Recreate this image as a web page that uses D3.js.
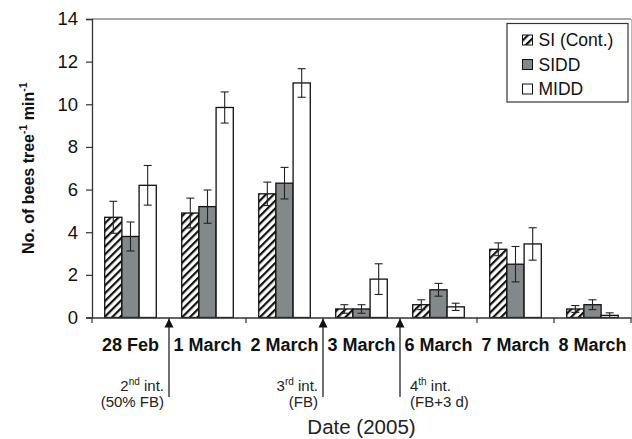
<!doctype html>
<html lang="en">
<head>
  <meta charset="utf-8">
  <title>Bee visits per tree</title>
  <style>
    body { margin: 0; background: #fff; }
    svg, svg text { font-family: "Liberation Sans", Arial, sans-serif; }
  </style>
</head>
<body>
  <div id="chart"></div>
  <script src="https://d3js.org/d3.v7.min.js"></script>
  <script>
    // Data ----------------------------------------------------------------
    const categories = ["28 Feb", "1 March", "2 March", "3 March", "6 March", "7 March", "8 March"];
    const seriesNames = ["SI (Cont.)", "SIDD", "MIDD"];
    const siMean = [4.7, 4.9, 5.8, 0.4, 0.6, 3.2, 0.4];
    const siErr = [0.75, 0.7, 0.55, 0.2, 0.23, 0.3, 0.16];
    const siddMean = [3.8, 5.2, 6.3, 0.4, 1.3, 2.5, 0.6];
    const siddErr = [0.68, 0.78, 0.74, 0.2, 0.3, 0.83, 0.23];
    const middMean = [6.2, 9.85, 11.0, 1.8, 0.5, 3.45, 0.1];
    const middErr = [0.93, 0.73, 0.67, 0.72, 0.17, 0.76, 0.12];
    const yTicks = [0, 2, 4, 6, 8, 10, 12, 14];

    // interventions sit on the boundary before these categories
    const interventionBefore = ["1 March", "3 March", "6 March"];
    const interventionNum = ["2", "3", "4"];
    const interventionSup = ["nd", "rd", "th"];
    const interventionNote = ["(50% FB)", "(FB)", "(FB+3 d)"];
    const interventionSide = ["left", "left", "right"];

    // Layout --------------------------------------------------------------
    const width = 632;
    const height = 439;
    const margin = { top: 19, right: 1, bottom: 121.5, left: 92 };

    const svg = d3.select("#chart")
      .append("svg")
      .attr("width", width)
      .attr("height", height);

    const x = d3.scaleBand()
      .domain(categories)
      .range([margin.left, width - margin.right])
      .padding(0);

    const xs = d3.scaleBand()
      .domain(seriesNames)
      .range([0, x.bandwidth()])
      .paddingInner(0)
      .paddingOuter(0.74);

    const y = d3.scaleLinear()
      .domain([0, 14])
      .range([height - margin.bottom, margin.top]);

    // hatch pattern
    const defs = svg.append("defs");
    const pat = defs.append("pattern")
      .attr("id", "hatch")
      .attr("patternUnits", "userSpaceOnUse")
      .attr("width", 5.5)
      .attr("height", 5.5)
      .attr("patternTransform", "rotate(45)");
    pat.append("rect").attr("width", 5.5).attr("height", 5.5).attr("fill", "#fff");
    pat.append("rect").attr("x", 0).attr("width", 2.2).attr("height", 5.5).attr("fill", "#111");

    const fills = ["url(#hatch)", "#83888a", "#fff"];
    const means = [siMean, siddMean, middMean];
    const errs = [siErr, siddErr, middErr];

    const rows = [];
    seriesNames.forEach((s, si) => {
      categories.forEach((c, ci) => {
        rows.push({ series: s, si: si, cat: c, v: means[si][ci], e: errs[si][ci] });
      });
    });

    // Frame ---------------------------------------------------------------
    svg.append("line")
      .attr("x1", margin.left).attr("x2", width - margin.right)
      .attr("y1", margin.top).attr("y2", margin.top)
      .attr("stroke", "#555").attr("stroke-width", 1.2);
    svg.append("line")
      .attr("x1", width - margin.right + 0.5).attr("x2", width - margin.right + 0.5)
      .attr("y1", margin.top).attr("y2", y(0))
      .attr("stroke", "#bbb").attr("stroke-width", 1);

    // Bars ----------------------------------------------------------------
    const bars = svg.append("g");
    bars.selectAll("rect")
      .data(rows)
      .join("rect")
      .attr("x", d => x(d.cat) + xs(d.series))
      .attr("y", d => y(d.v))
      .attr("width", xs.bandwidth())
      .attr("height", d => y(0) - y(d.v))
      .attr("fill", d => fills[d.si])
      .attr("stroke", "#111")
      .attr("stroke-width", 1.3);

    // Error bars
    const eb = svg.append("g").attr("stroke", "#222").attr("stroke-width", 1.1);
    const cx = d => x(d.cat) + xs(d.series) + xs.bandwidth() / 2;
    eb.selectAll("line.v")
      .data(rows).join("line").attr("class", "v")
      .attr("x1", cx).attr("x2", cx)
      .attr("y1", d => y(d.v + d.e)).attr("y2", d => y(Math.max(0, d.v - d.e)));
    eb.selectAll("line.t")
      .data(rows).join("line").attr("class", "t")
      .attr("x1", d => cx(d) - 4).attr("x2", d => cx(d) + 4)
      .attr("y1", d => y(d.v + d.e)).attr("y2", d => y(d.v + d.e));
    eb.selectAll("line.b")
      .data(rows.filter(d => d.v - d.e > 0)).join("line").attr("class", "b")
      .attr("x1", d => cx(d) - 4).attr("x2", d => cx(d) + 4)
      .attr("y1", d => y(d.v - d.e)).attr("y2", d => y(d.v - d.e));

    // Axes ----------------------------------------------------------------
    const yAxis = svg.append("g")
      .attr("transform", `translate(${margin.left},0)`)
      .call(d3.axisLeft(y).tickValues(yTicks).tickSize(6).tickPadding(8).tickFormat(d3.format("d")));
    yAxis.attr("font-family", null);
    yAxis.select(".domain").attr("stroke", "#333").attr("stroke-width", 1.3);
    yAxis.selectAll(".tick line").attr("stroke", "#333").attr("stroke-width", 1.2);
    yAxis.selectAll("text")
      .attr("font-size", 18.5).attr("fill", "#111");

    const xAxis = svg.append("g")
      .attr("transform", `translate(0,${y(0)})`)
      .call(d3.axisBottom(x).tickSize(0).tickPadding(0).tickFormat(() => ""));
    xAxis.select(".domain").attr("stroke", "#333").attr("stroke-width", 1.3);

    // boundary ticks
    const bounds = categories.map(c => x(c)).concat([x(categories[categories.length - 1]) + x.bandwidth()]);
    svg.append("g").selectAll("line")
      .data(bounds).join("line")
      .attr("x1", d => d).attr("x2", d => d)
      .attr("y1", y(0)).attr("y2", y(0) + 5.5)
      .attr("stroke", "#333").attr("stroke-width", 1.2);

    // category labels
    svg.append("g").selectAll("text")
      .data(categories).join("text")
      .attr("x", d => x(d) + x.bandwidth() / 2)
      .attr("y", 351)
      .attr("text-anchor", "middle")
      .attr("font-size", 18)
      .attr("font-weight", "bold")
      .attr("fill", "#111")
      .text(d => d);

    // Interventions -------------------------------------------------------
    const iv = svg.append("g");
    interventionBefore.forEach((c, i) => {
      const ax = x(c);
      iv.append("line")
        .attr("x1", ax).attr("x2", ax)
        .attr("y1", y(0) + 7).attr("y2", 397)
        .attr("stroke", "#111").attr("stroke-width", 1.2);
      iv.append("path")
        .attr("d", `M${ax},${y(0) + 1} L${ax - 4.5},${y(0) + 10} L${ax + 4.5},${y(0) + 10} Z`)
        .attr("fill", "#111");
      const right = interventionSide[i] === "left";
      const tx = right ? ax - 5 : ax + 10;
      const anchor = right ? "end" : "start";
      const t1 = iv.append("text")
        .attr("x", tx).attr("y", 391)
        .attr("text-anchor", anchor)
        .attr("font-size", 15)
        .attr("fill", "#222");
      t1.append("tspan").text(interventionNum[i]);
      t1.append("tspan").attr("font-size", 10).attr("dy", -6).text(interventionSup[i]);
      t1.append("tspan").attr("dy", 6).text(" int.");
      iv.append("text")
        .attr("x", tx).attr("y", 407)
        .attr("text-anchor", anchor)
        .attr("font-size", 15)
        .attr("fill", "#222")
        .text(interventionNote[i]);
    });

    // Axis titles ---------------------------------------------------------
    svg.append("text")
      .attr("x", (margin.left + width - margin.right) / 2)
      .attr("y", 434)
      .attr("text-anchor", "middle")
      .attr("font-size", 20.5)
      .attr("fill", "#222")
      .text("Date (2005)");

    const yl = svg.append("text")
      .attr("transform", `translate(34,${(y(0) + y(14)) / 2}) rotate(-90)`)
      .attr("text-anchor", "middle")
      .attr("font-size", 16)
      .attr("font-weight", "bold")
      .attr("fill", "#111");
    yl.append("tspan").text("No. of bees tree");
    yl.append("tspan").attr("font-size", 10.5).attr("dy", -7).text("-1");
    yl.append("tspan").attr("dy", 7).text(" min");
    yl.append("tspan").attr("font-size", 10.5).attr("dy", -7).text("-1");

    // Legend --------------------------------------------------------------
    const lg = svg.append("g").attr("transform", "translate(507,23.5)");
    lg.append("rect")
      .attr("width", 121).attr("height", 78.5)
      .attr("fill", "#fff").attr("stroke", "#333").attr("stroke-width", 1.2);
    seriesNames.forEach((s, i) => {
      const ry = 16.5 + i * 24.5;
      lg.append("rect")
        .attr("x", 15.5).attr("y", ry - 5)
        .attr("width", 10).attr("height", 10)
        .attr("fill", fills[i]).attr("stroke", "#111").attr("stroke-width", 1);
      lg.append("text")
        .attr("x", 31.5).attr("y", ry + 6)
        .attr("font-size", 17.5)
        .attr("fill", "#111")
        .text(s);
    });
  </script>
</body>
</html>
